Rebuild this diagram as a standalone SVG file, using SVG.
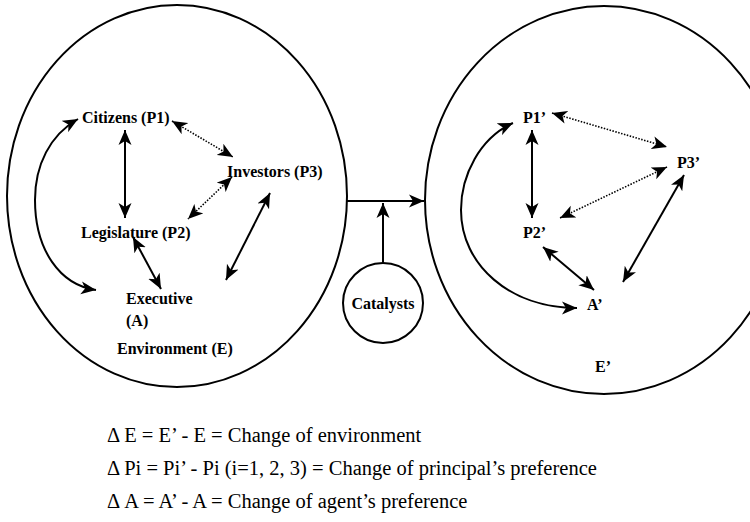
<svg xmlns="http://www.w3.org/2000/svg" width="750" height="522" viewBox="0 0 750 522">
<style>
.env{fill:none;stroke:#000;stroke-width:2}
.lbl{font-family:"Liberation Serif","Times New Roman",serif;font-size:16px;font-weight:bold;fill:#000}
.eq{font-family:"Liberation Serif","Times New Roman",serif;font-size:20.5px;fill:#000}
.a{fill:none;stroke:#000;stroke-width:2;marker-start:url(#ah);marker-end:url(#ah)}
.d{fill:none;stroke:#000;stroke-width:1.6;stroke-dasharray:1.5 1.5;marker-start:url(#ah);marker-end:url(#ah)}
.s{fill:none;stroke:#000;stroke-width:2;marker-end:url(#ah)}
</style>
<defs>
<marker id="ah" markerUnits="userSpaceOnUse" markerWidth="16" markerHeight="14" refX="15" refY="7" orient="auto-start-reverse">
<path d="M0,0.5 L15,7 L0,13.5 L4,7 z" fill="#000"/>
</marker>
</defs>
<rect width="750" height="522" fill="#fff"/>
<g id="env-E">
<ellipse class="env" cx="177" cy="196" rx="170" ry="191"/>
<text class="lbl" x="117" y="354">Environment (E)</text>
</g>
<g id="env-E2">
<ellipse class="env" cx="604" cy="200" rx="179" ry="194"/>
<text class="lbl" x="595" y="372">E’</text>
</g>
<g id="catalysts">
<circle class="env" cx="383" cy="303" r="40"/>
<text class="lbl" x="383" y="309" text-anchor="middle">Catalysts</text>
</g>
<g id="citizens"><text class="lbl" x="82" y="123">Citizens (P1)</text></g>
<g id="investors"><text class="lbl" x="227" y="177">Investors (P3)</text></g>
<g id="legislature"><text class="lbl" x="81" y="238">Legislature (P2)</text></g>
<g id="executive"><text class="lbl" x="126" y="304">Executive</text><text class="lbl" x="126" y="326">(A)</text></g>
<g id="p1p"><text class="lbl" x="523" y="123">P1’</text></g>
<g id="p3p"><text class="lbl" x="677" y="168">P3’</text></g>
<g id="p2p"><text class="lbl" x="523" y="238">P2’</text></g>
<g id="ap"><text class="lbl" x="587" y="310">A’</text></g>
<g id="connectors">
<path class="a" d="M78,119 C50,135 35,165 35,200 C35,250 60,285 96,290"/>
<line class="a" x1="125" y1="130" x2="125" y2="218"/>
<line class="d" x1="172" y1="121" x2="233" y2="157"/>
<line class="d" x1="232" y1="177" x2="188" y2="219"/>
<line class="a" x1="133" y1="237" x2="161" y2="289"/>
<line class="a" x1="270" y1="193" x2="226" y2="280"/>
<line class="s" x1="347" y1="201" x2="424" y2="201"/>
<line class="s" x1="383" y1="263" x2="383" y2="203"/>
<path class="a" d="M513,123 C480,138 461,175 461,210 C461,265 510,308 577,308"/>
<line class="a" x1="532" y1="130" x2="532" y2="218"/>
<line class="d" x1="552" y1="113" x2="667" y2="147"/>
<line class="d" x1="667" y1="167" x2="560" y2="218"/>
<line class="a" x1="543" y1="247" x2="594" y2="290"/>
<line class="a" x1="684" y1="175" x2="623" y2="282"/>
</g>
<g id="legend">
<text class="eq" x="107" y="442">Δ E = E’ - E = Change of environment</text>
<text class="eq" x="107" y="475">Δ Pi = Pi’ - Pi (i=1, 2, 3) = Change of principal’s preference</text>
<text class="eq" x="107" y="508">Δ A = A’ - A = Change of agent’s preference</text>
</g>
</svg>
